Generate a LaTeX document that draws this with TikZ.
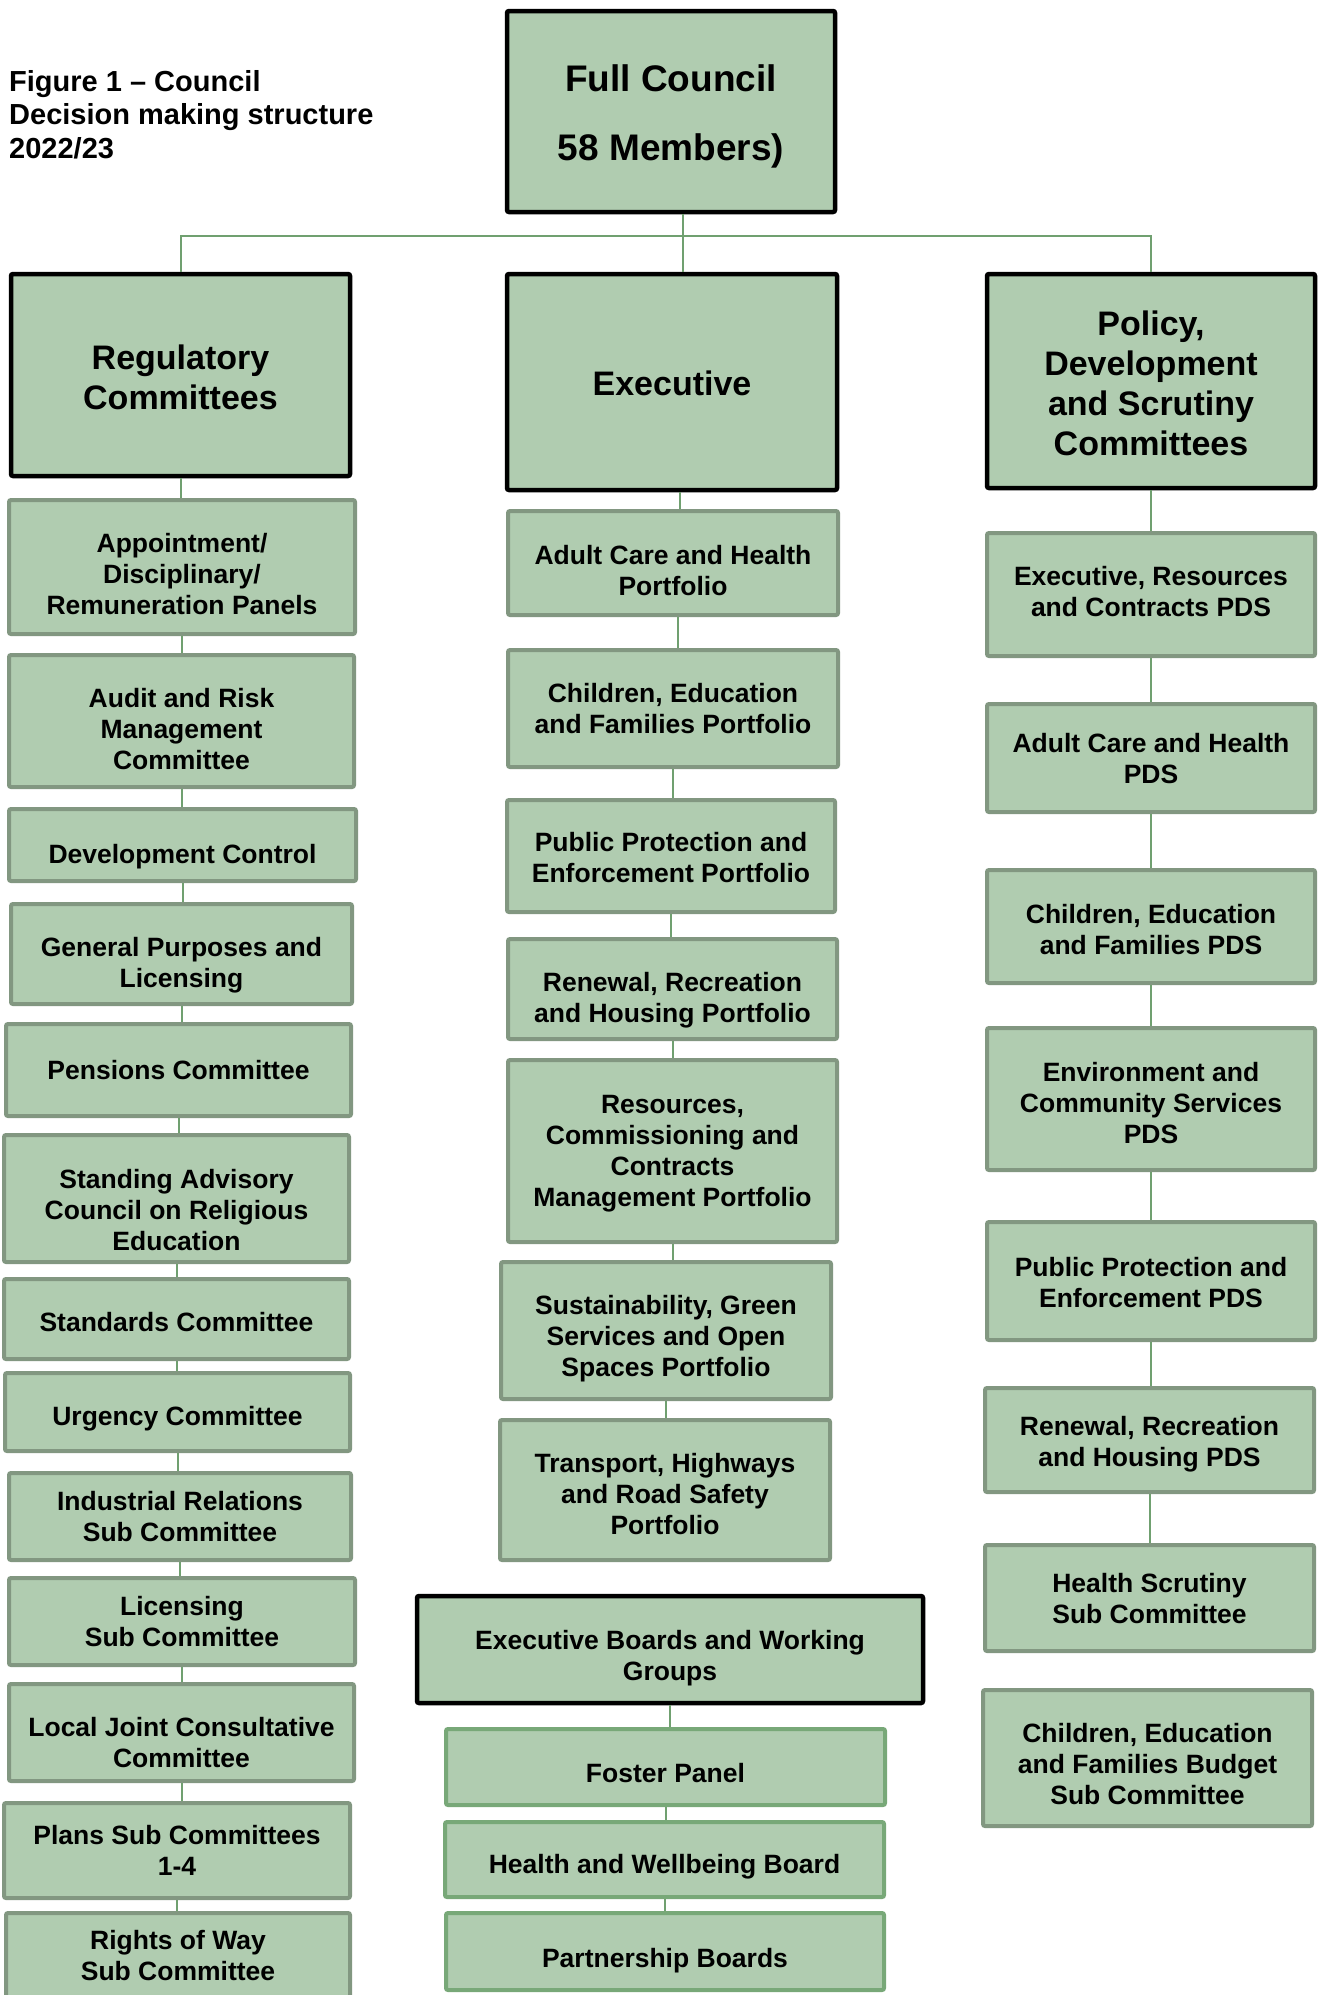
\documentclass[tikz,border=0pt]{standalone}
\usepackage{fontspec}
\setmainfont{Liberation Sans}
\usetikzlibrary{positioning, calc}

\definecolor{boxfill}{RGB}{176,204,176}
\definecolor{unitline}{RGB}{130,151,129}
\definecolor{boardline}{RGB}{120,168,120}
\definecolor{linkgreen}{RGB}{112,160,112}

\tikzset{
	unit/.style={draw, fill=boxfill, rounded corners=2pt, align=center, inner sep=0pt,
		font=\bfseries\fontsize{26.5}{31}\selectfont},
	dims/.style 2 args={minimum width=#1pt-4pt, minimum height=#2pt-4pt},
	% #1 lines of text, moved down by #2
	drop/.style 2 args={text depth=0pt, text height=19pt+31pt*(#1-1)+2pt*#2},
	headdrop/.style 2 args={text depth=0pt, text height=24.5pt+40pt*(#1-1)+2pt*#2},
	headunit/.style={unit, draw=black, line width=4.5pt, font=\bfseries\fontsize{34}{40}\selectfont},
	memberunit/.style={unit, draw=unitline, line width=4pt},
	boardunit/.style={unit, draw=boardline, line width=4pt},
	link/.style={draw=linkgreen, line width=2pt}
}

\begin{document}
\begin{tikzpicture}[x=1pt, y=-1pt]
	\fill[white] (0,0) rectangle (1322,1995);
	\useasboundingbox (0,0) rectangle (1322,1995);

	% title
	\node[anchor=base west, align=left, inner sep=0pt, font=\bfseries\fontsize{29}{33.5}\selectfont] (title) at (9,158)
		{Figure 1 -- Council\\Decision making structure\\2022/23};

	% top
	\node[headunit, dims={332}{205}, text depth=0pt, text height=97pt, font=\bfseries\fontsize{37}{44}\selectfont] (council) at (671,111.5)
		{Full Council\\[25pt]58 Members)};
	\node[headunit, dims={343}{206}, headdrop={2}{2.5}] (regulatory) at (180.5,375) {Regulatory\\Committees};
	\node[headunit, dims={334}{220}, headdrop={1}{1.3}] (executive) at (672,382) {Executive};
	\node[headunit, dims={332}{218}, headdrop={4}{2.5}] (policy) at (1151,381) {Policy,\\Development\\and Scrutiny\\Committees};

	% regulatory committees
	\node[memberunit, dims={350}{138}, drop={3}{7}] (appoint) at (182,567) {Appointment/\\Disciplinary/\\Remuneration Panels};
	\node[memberunit, dims={349}{136}, drop={3}{8}] (audit) at (181.5,721) {Audit and Risk\\Management\\Committee};
	\node[memberunit, dims={351}{76}, drop={1}{9}] (devcontrol) at (182.5,845) {Development Control};
	\node[memberunit, dims={345}{104}, drop={2}{8}] (general) at (181.5,954) {General Purposes and\\Licensing};
	\node[memberunit, dims={349}{96}, drop={1}{0}] (pensions) at (178.5,1070) {Pensions Committee};
	\node[memberunit, dims={349}{131}, drop={3}{11.5}] (sacre) at (176.5,1198.5) {Standing Advisory\\Council on Religious\\Education};
	\node[memberunit, dims={349}{84}, drop={1}{3}] (standards) at (176.5,1319) {Standards Committee};
	\node[memberunit, dims={349}{82}, drop={1}{4}] (urgency) at (177.5,1412) {Urgency Committee};
	\node[memberunit, dims={346}{91}, drop={2}{0}] (industrial) at (180,1516.5) {Industrial Relations\\Sub Committee};
	\node[memberunit, dims={350}{91}, drop={2}{0}] (licensing) at (182,1621.5) {Licensing\\Sub Committee};
	\node[memberunit, dims={349}{101}, drop={2}{9.5}] (localjoint) at (181.5,1732.5) {Local Joint Consultative\\Committee};
	\node[memberunit, dims={350}{99}, drop={2}{0}] (plans) at (177,1850.5) {Plans Sub Committees\\1-4};
	\node[memberunit, dims={348}{89}, drop={2}{0}] (rightsofway) at (178,1955.5) {Rights of Way\\Sub Committee};

	% executive portfolios
	\node[memberunit, dims={334}{108}, drop={2}{7}] (adultport) at (673,563) {Adult Care and Health\\Portfolio};
	\node[memberunit, dims={334}{121}, drop={2}{0}] (childport) at (673,708.5) {Children, Education\\and Families Portfolio};
	\node[memberunit, dims={332}{116}, drop={2}{1.5}] (publicport) at (671,856) {Public Protection and\\Enforcement Portfolio};
	\node[memberunit, dims={333}{104}, drop={2}{8}] (renewalport) at (672.5,989) {Renewal, Recreation\\and Housing Portfolio};
	\node[memberunit, dims={333}{186}, drop={4}{-1}] (resources) at (672.5,1151) {Resources,\\Commissioning and\\Contracts\\Management Portfolio};
	\node[memberunit, dims={334}{141}, drop={3}{5.5}] (sustain) at (666,1330.5) {Sustainability, Green\\Services and Open\\Spaces Portfolio};
	\node[memberunit, dims={334}{144}, drop={3}{3.5}] (transport) at (665,1490) {Transport, Highways\\and Road Safety\\Portfolio};

	% boards
	\node[headunit, dims={510}{111}, drop={2}{6}, font=\bfseries\fontsize{26.5}{31}\selectfont] (boards) at (670,1649.5)
		{Executive Boards and Working\\Groups};
	\node[boardunit, dims={443}{80}, drop={1}{5.5}] (foster) at (665.5,1767) {Foster Panel};
	\node[boardunit, dims={443}{79}, drop={1}{4.5}] (wellbeing) at (664.5,1859.5) {Health and Wellbeing Board};
	\node[boardunit, dims={442}{81}, drop={1}{6.5}] (partnership) at (665,1951.5) {Partnership Boards};

	% PDS committees
	\node[memberunit, dims={332}{127}, drop={2}{-3}] (execpds) at (1151,594.5) {Executive, Resources\\and Contracts PDS};
	\node[memberunit, dims={332}{112}, drop={2}{0}] (adultpds) at (1151,758) {Adult Care and Health\\PDS};
	\node[memberunit, dims={332}{117}, drop={2}{2.5}] (childpds) at (1151,926.5) {Children, Education\\and Families PDS};
	\node[memberunit, dims={332}{146}, drop={3}{3.5}] (envpds) at (1151,1099) {Environment and\\Community Services\\PDS};
	\node[memberunit, dims={332}{122}, drop={2}{1}] (publicpds) at (1151,1281) {Public Protection and\\Enforcement PDS};
	\node[memberunit, dims={333}{108}, drop={2}{1}] (renewalpds) at (1149.5,1440) {Renewal, Recreation\\and Housing PDS};
	\node[memberunit, dims={333}{110}, drop={2}{0}] (healthsub) at (1149.5,1598) {Health Scrutiny\\Sub Committee};
	\node[memberunit, dims={333}{140}, drop={3}{5.5}] (budgetsub) at (1147.5,1758) {Children, Education\\and Families Budget\\Sub Committee};

	% connectors
	\coordinate (hub) at (683,236);
	\draw[link] (hub |- council.south) -- (hub);
	\draw[link] (regulatory.north) |- (hub) -| (policy.north);
	\draw[link] (hub) -- (hub |- executive.north);
	\draw[link] ([xshift=8pt]executive.south) -- ([xshift=8pt]executive.south |- adultport.north);
	\draw[link] ([xshift=5pt]adultport.south) -- ([xshift=5pt]adultport.south |- childport.north);
	\foreach \a/\b in {regulatory/appoint, appoint/audit, audit/devcontrol, devcontrol/general,
		general/pensions, pensions/sacre, sacre/standards, standards/urgency, urgency/industrial,
		industrial/licensing, licensing/localjoint, localjoint/plans, plans/rightsofway,
		childport/publicport, publicport/renewalport,
		renewalport/resources, resources/sustain, sustain/transport,
		boards/foster, foster/wellbeing, wellbeing/partnership,
		policy/execpds, execpds/adultpds, adultpds/childpds, childpds/envpds, envpds/publicpds,
		publicpds/renewalpds, renewalpds/healthsub}
		\draw[link] (\a.south) -- (\a.south |- \b.north);
\end{tikzpicture}
\end{document}
